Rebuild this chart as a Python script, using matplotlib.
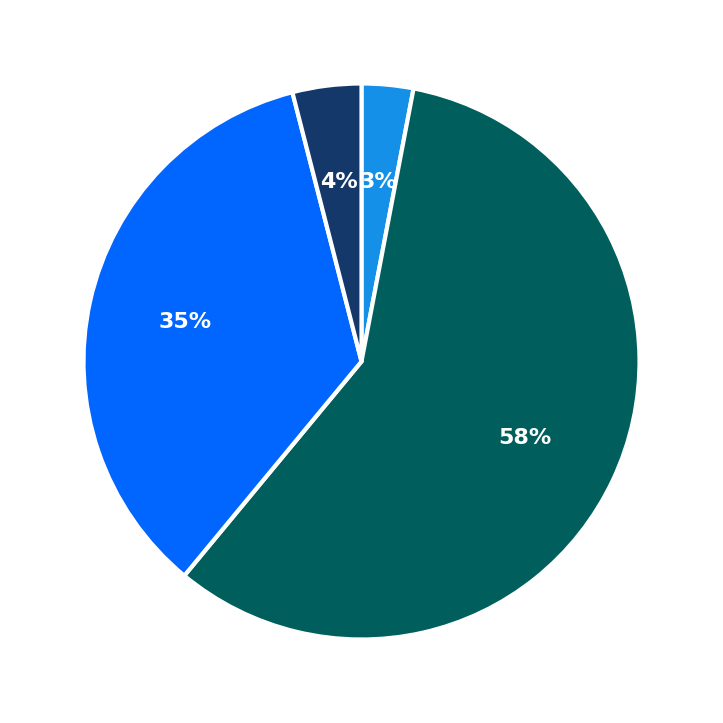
import matplotlib
matplotlib.use("Agg")
import matplotlib.pyplot as plt

# slice data, clockwise from the top
labels = ["A", "B", "C", "D"]
values = [3, 58, 35, 4]
colors = ["#1490e8", "#005f5c", "#0066ff", "#14386a"]

fig = plt.figure(figsize=(7.23, 7.23), dpi=100)
ax = fig.add_axes([0, 0, 1, 1])

wedges, texts, autotexts = ax.pie(
    values,
    colors=colors,
    startangle=90,
    counterclock=False,
    autopct="%.0f%%",
    pctdistance=0.65,
    wedgeprops=dict(edgecolor="white", linewidth=3),
    textprops=dict(color="white", fontsize=16, fontweight="bold"),
)

lim = 361.5 / 278
ax.set_xlim(-lim, lim)
ax.set_ylim(-lim, lim)
ax.set_aspect("equal")
ax.axis("off")

fig.savefig("out.png", dpi=100, facecolor="white")
